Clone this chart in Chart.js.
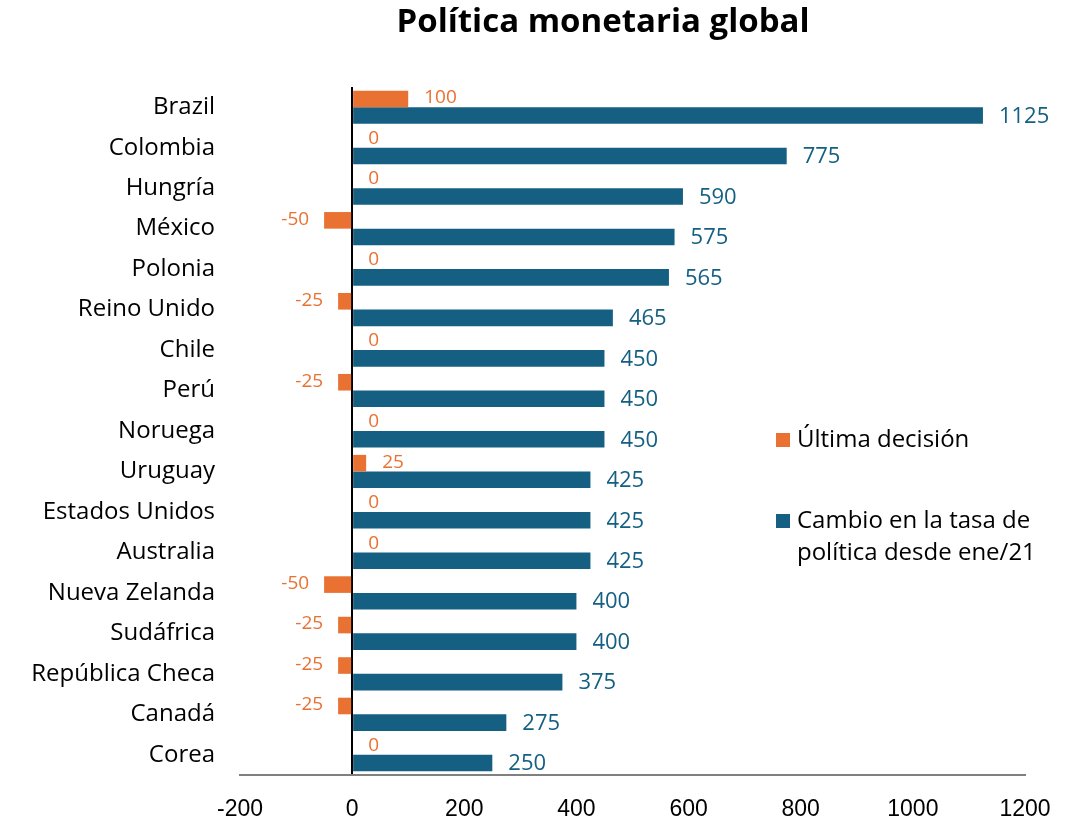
<!DOCTYPE html>
<html>
<head>
<meta charset="utf-8">
<script src="https://cdn.jsdelivr.net/npm/chart.js@4.4.1/dist/chart.umd.min.js"></script>
<style>
  html, body { margin: 0; padding: 0; background: #ffffff; }
  #wrap { width: 1084px; height: 823px; }
</style>
</head>
<body>
<div id="wrap"><canvas id="Chart" width="1084" height="823"></canvas></div>
<script>
const countries = ["Brazil", "Colombia", "Hungría", "México", "Polonia", "Reino Unido", "Chile", "Perú", "Noruega",
    "Uruguay", "Estados Unidos", "Australia", "Nueva Zelanda", "Sudáfrica", "República Checa", "Canadá", "Corea"];
const lastDecision = [100, 0, 0, -50, 0, -25, 0, -25, 0, 25, 0, 0, -50, -25, -25, -25, 0];
const changeSince21 = [1125, 775, 590, 575, 565, 465, 450, 450, 450, 425, 425, 425, 400, 400, 375, 275, 250];
const xTicks = [-200, 0, 200, 400, 600, 800, 1000, 1200];

const orange = "#E97132";
const blue = "#156082";
const labelFont = "'Open Sans', 'Noto Sans', sans-serif";

// value labels next to each bar end, legend and title drawn by hand
const extrasPlugin = {
    id: "extras",
    afterDatasetsDraw(chart) {
        const ctx = chart.ctx;
        ctx.save();
        ctx.textBaseline = "middle";
        const zero = chart.scales.x.getPixelForValue(0);
        chart.data.datasets.forEach((ds, i) => {
            const meta = chart.getDatasetMeta(i);
            ctx.fillStyle = ds.labelColor;
            ctx.font = ds.labelSize + "px " + labelFont;
            meta.data.forEach((bar, j) => {
                const v = ds.data[j];
                const y = bar.y + ds.labelShift;
                if (v < 0) {
                    ctx.textAlign = "right";
                    ctx.fillText(String(v), bar.x - 15, y);
                } else {
                    ctx.textAlign = "left";
                    ctx.fillText(String(v), Math.max(bar.x, zero) + 16, y);
                }
            });
        });

        // legend
        ctx.font = "24px " + labelFont;
        ctx.textAlign = "left";
        ctx.fillStyle = orange;
        ctx.fillRect(776, 433, 14, 14);
        ctx.fillStyle = blue;
        ctx.fillRect(776, 514, 14, 14);
        ctx.fillStyle = "#000000";
        ctx.fillText(chart.data.datasets[0].label, 797, 440);
        const lines = chart.data.datasets[1].label.split("\n");
        lines.forEach((line, k) => ctx.fillText(line, 797, 521 + k * 32));

        // title
        ctx.font = "bold 33px " + labelFont;
        ctx.textAlign = "center";
        ctx.fillText("Política monetaria global", 603, 23);
        ctx.restore();
    }
};

let myChart;

function createChart() {
    myChart = new Chart("Chart", {
        type: "bar",
        data: {
            labels: countries,
            datasets: [{
                label: "Última decisión",
                data: lastDecision,
                backgroundColor: orange,
                labelColor: orange,
                labelSize: 19,
                labelShift: -1
            }, {
                label: "Cambio en la tasa de\npolítica desde ene/21",
                data: changeSince21,
                backgroundColor: blue,
                labelColor: blue,
                labelSize: 22,
                labelShift: 1
            }]
        },
        options: {
            indexAxis: "y",
            responsive: false,
            animation: false,
            categoryPercentage: 0.82,
            barPercentage: 1.0,
            layout: { padding: { top: 87, right: 59, left: 0, bottom: 0 } },
            plugins: {
                legend: { display: false },
                title: { display: false },
                tooltip: { enabled: false }
            },
            scales: {
                x: {
                    min: -200,
                    max: 1200,
                    afterBuildTicks: (scale) => { scale.ticks = xTicks.map(v => ({ value: v })); },
                    afterFit: (scale) => { scale.height = 48; },
                    grid: {
                        drawTicks: false,
                        color: (c) => (c.tick && c.tick.value === 0 ? "#000000" : "rgba(0,0,0,0)"),
                        lineWidth: 2
                    },
                    border: { display: true, color: "#808080", width: 2 },
                    ticks: {
                        padding: 21,
                        color: "#000000",
                        callback: (v) => String(v),
                        font: { family: "'Liberation Sans Narrow', 'Liberation Sans', sans-serif", size: 23 }
                    }
                },
                y: {
                    afterFit: (scale) => { scale.width = 240; },
                    grid: { display: false, drawTicks: false },
                    border: { display: false },
                    ticks: {
                        padding: 25,
                        color: "#000000",
                        font: { family: labelFont, size: 24 }
                    }
                }
            }
        },
        plugins: [extrasPlugin]
    });
}

createChart();
</script>
</body>
</html>
